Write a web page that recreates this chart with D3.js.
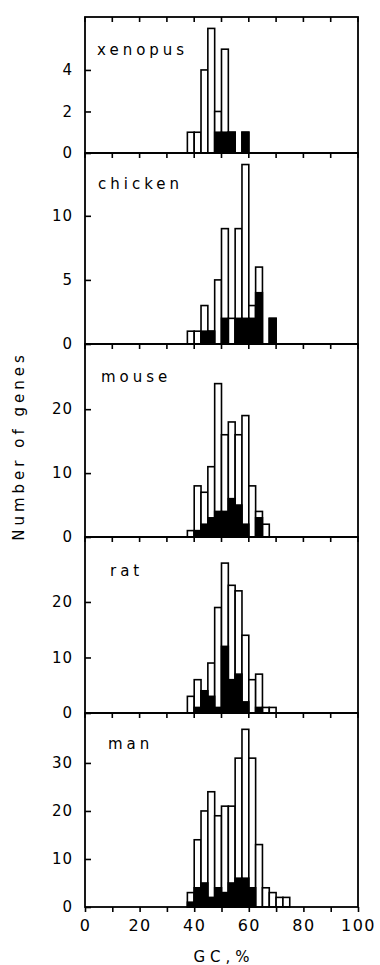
<!DOCTYPE html>
<html>
<head>
<meta charset="utf-8">
<script src="https://cdn.jsdelivr.net/npm/d3@7"></script>
<style>
  body { margin: 0; background: #fff; }
  svg { display: block; }
  text { font-family: "DejaVu Sans", sans-serif; fill: #000; }
</style>
</head>
<body>
<svg id="chart" width="380" height="965"></svg>
<script>
// GC bins, 2.5% wide, left edges
const binStarts = [37.5, 40, 42.5, 45, 47.5, 50, 52.5, 55, 57.5, 60, 62.5, 65, 67.5, 70, 72.5];

const species = ["xenopus", "chicken", "mouse", "rat", "man"];

// all genes per bin (open bar height)
const xenopusAll = [1, 1, 4, 6, 2, 5, 1, 0, 1, 0, 0, 0, 0, 0, 0];
const chickenAll = [1, 1, 3, 1, 5, 9, 2, 9, 14, 3, 6, 0, 2, 0, 0];
const mouseAll   = [1, 8, 7, 11, 24, 16, 18, 16, 19, 8, 4, 2, 0, 0, 0];
const ratAll     = [3, 6, 4, 9, 19, 27, 23, 22, 14, 6, 7, 1, 1, 0, 0];
const manAll     = [3, 14, 20, 24, 19, 21, 21, 31, 37, 31, 13, 4, 3, 2, 2];

// filled part of each bar
const xenopusBlack = [0, 0, 0, 0, 1, 1, 1, 0, 1, 0, 0, 0, 0, 0, 0];
const chickenBlack = [0, 0, 1, 1, 0, 2, 0, 2, 2, 2, 4, 0, 2, 0, 0];
const mouseBlack   = [0, 1, 2, 3, 4, 4, 6, 5, 2, 0, 3, 0, 0, 0, 0];
const ratBlack     = [0, 1, 4, 3, 1, 12, 6, 7, 2, 0, 1, 0, 0, 0, 0];
const manBlack     = [1, 4, 5, 2, 4, 3, 5, 6, 6, 4, 0, 0, 0, 0, 0];

const yTicks = [[0, 2, 4], [0, 5, 10], [0, 10, 20], [0, 10, 20], [0, 10, 20, 30]];
const yMax   = [6.55, 14.9, 30.2, 31.7, 40.4];
const xTicks = d3.range(0, 101, 10);
const xTickLabels = [0, 20, 40, 60, 80, 100];

const allCounts   = [xenopusAll, chickenAll, mouseAll, ratAll, manAll];
const blackCounts = [xenopusBlack, chickenBlack, mouseBlack, ratBlack, manBlack];

const svg = d3.select("#chart");
const left = 85, right = 358;
const panelTops = [17, 153, 344, 537, 713];
const panelBottoms = [153, 344, 537, 713, 907];
const labelPos = [[97, 55], [98, 189], [101, 382], [110, 576], [108, 749]];

const x = d3.scaleLinear().domain([0, 100]).range([left, right]);
const binW = 2.5;

species.forEach((name, i) => {
  const top = panelTops[i], bottom = panelBottoms[i];
  const y = d3.scaleLinear().domain([0, yMax[i]]).range([bottom, top]);
  const g = svg.append("g").attr("class", "panel " + name);

  const bins = binStarts.map((b, j) => ({ b, all: allCounts[i][j], black: blackCounts[i][j] }));

  // open bars
  g.selectAll("rect.all")
    .data(bins.filter(d => d.all > 0))
    .enter().append("rect")
    .attr("class", "all")
    .attr("x", d => x(d.b))
    .attr("width", d => x(d.b + binW) - x(d.b))
    .attr("y", d => y(d.all))
    .attr("height", d => y(0) - y(d.all))
    .attr("fill", "#fff")
    .attr("stroke", "#000")
    .attr("stroke-width", 1.6);

  // filled part
  g.selectAll("rect.black")
    .data(bins.filter(d => d.black > 0))
    .enter().append("rect")
    .attr("class", "black")
    .attr("x", d => x(d.b))
    .attr("width", d => x(d.b + binW) - x(d.b))
    .attr("y", d => y(d.black))
    .attr("height", d => y(0) - y(d.black))
    .attr("fill", "#000")
    .attr("stroke", "#000")
    .attr("stroke-width", 1.6);

  // frame
  g.append("rect")
    .attr("x", left).attr("y", top)
    .attr("width", right - left).attr("height", bottom - top)
    .attr("fill", "none")
    .attr("stroke", "#000")
    .attr("stroke-width", 1.8);

  // x ticks on top edge, pointing in
  g.selectAll("line.xt")
    .data(xTicks)
    .enter().append("line")
    .attr("x1", d => x(d)).attr("x2", d => x(d))
    .attr("y1", top).attr("y2", top + 5)
    .attr("stroke", "#000").attr("stroke-width", 1.6);

  // y axis
  const yAxis = d3.axisLeft(y).tickValues(yTicks[i]).tickSize(-6).tickPadding(12).tickFormat(d3.format("d"));
  const ya = g.append("g").attr("transform", `translate(${left},0)`).call(yAxis);
  ya.select(".domain").remove();
  ya.selectAll(".tick line").attr("stroke-width", 1.6);
  ya.selectAll(".tick text")
    .style("font-family", '"DejaVu Sans", sans-serif')
    .style("font-size", "15px")
    .attr("letter-spacing", "1px");

  g.append("text")
    .attr("x", labelPos[i][0]).attr("y", labelPos[i][1])
    .attr("font-size", "15px")
    .attr("letter-spacing", "4px")
    .text(name);
});

// bottom x axis
const xAxis = d3.axisBottom(x).tickValues(xTicks).tickSize(5).tickPadding(8)
  .tickFormat(d => xTickLabels.includes(d) ? d : "");
const xa = svg.append("g").attr("transform", `translate(0,${panelBottoms[4]})`).call(xAxis);
xa.select(".domain").remove();
xa.selectAll(".tick line").attr("stroke-width", 1.6);
xa.selectAll(".tick text")
  .style("font-family", '"DejaVu Sans", sans-serif')
  .style("font-size", "16px")
  .attr("letter-spacing", "1.5px");

svg.append("text")
  .attr("x", 224).attr("y", 962)
  .attr("text-anchor", "middle")
  .attr("font-size", "15px")
  .attr("letter-spacing", "5px")
  .text("GC,%");

svg.append("text")
  .attr("transform", "translate(19,446) rotate(-90)")
  .attr("text-anchor", "middle")
  .attr("dominant-baseline", "central")
  .attr("font-size", "15px")
  .attr("letter-spacing", "4px")
  .text("Number of genes");
</script>
</body>
</html>
